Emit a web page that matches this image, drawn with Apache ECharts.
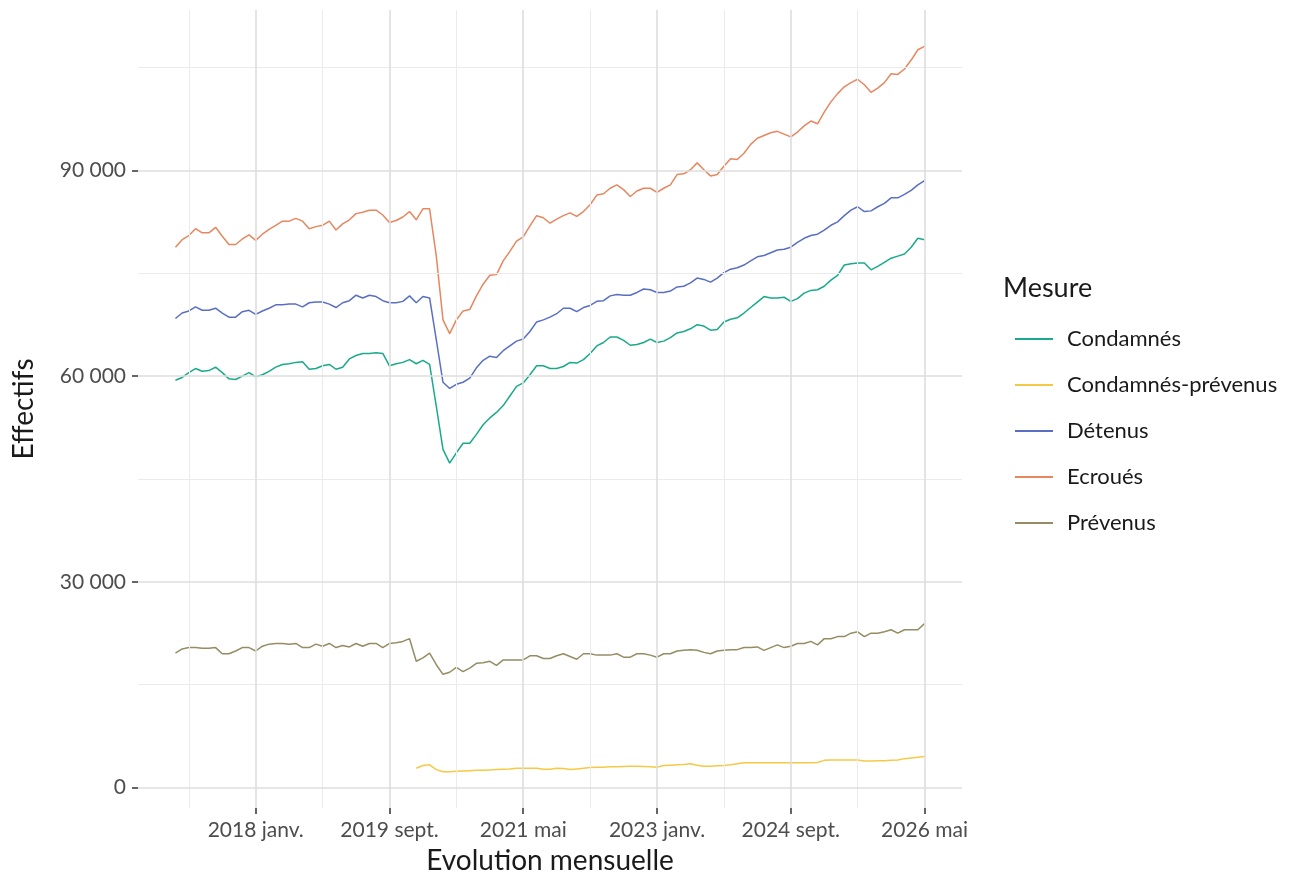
<!DOCTYPE html>
<html>
<head>
<meta charset="utf-8">
<script src="https://cdn.jsdelivr.net/npm/echarts@6.0.0/dist/echarts.min.js"></script>
<style>html, body { margin: 0; background: #fff; }</style>
</head>
<body>
<div id="main" style="width: 1310px; height: 877px;"></div>
<script>
// months are counted from 2017 janv. (index 0) to 2026 mai (index 112)
var tickMonths = [12, 32, 52, 72, 92, 112];
var tickLabels = ['2018 janv.', '2019 sept.', '2021 mai', '2023 janv.', '2024 sept.', '2026 mai'];
var minorMonths = [2, 22, 42, 62, 82, 102];
var yTicks = [0, 30000, 60000, 90000];
var yMinor = [15000, 45000, 75000, 105000];

var names = ['Condamnés', 'Condamnés-prévenus', 'Détenus', 'Ecroués', 'Prévenus'];
var colors = ['#1AAA8B', '#F6C945', '#5A6FC2', '#E6875F', '#968C64'];

// values in thousands, one per month
var condamnes = [59.4, 59.8, 60.5, 61.1, 60.7, 60.8, 61.3, 60.5, 59.6, 59.5, 60.0, 60.5, 59.9, 60.2, 60.7, 61.3,
  61.7, 61.8, 62.0, 62.1, 61.0, 61.1, 61.5, 61.7, 61.0, 61.3, 62.5, 63.0, 63.3, 63.3, 63.4, 63.3, 61.5, 61.8,
  62.0, 62.4, 61.8, 62.3, 61.7, 55.6, 49.3, 47.3, 48.8, 50.2, 50.2, 51.5, 52.9, 53.9, 54.7, 55.7, 57.1, 58.5,
  59.0, 60.2, 61.5, 61.5, 61.1, 61.1, 61.4, 62.0, 61.9, 62.4, 63.3, 64.4, 64.9, 65.7, 65.7, 65.2, 64.5, 64.6,
  64.9, 65.4, 64.9, 65.1, 65.6, 66.3, 66.5, 66.9, 67.5, 67.3, 66.7, 66.8, 67.9, 68.3, 68.5, 69.2, 70.0, 70.8,
  71.6, 71.4, 71.4, 71.5, 70.9, 71.3, 72.1, 72.5, 72.6, 73.1, 74.0, 74.7, 76.2, 76.4, 76.5, 76.5, 75.5, 76.0,
  76.6, 77.2, 77.5, 77.8, 78.8, 80.1, 79.9];

// starts in 2020 janv. (index 36)
var cpStart = 36;
var condamnesPrevenus = [2.8, 3.2, 3.3, 2.6, 2.3, 2.3, 2.35, 2.4, 2.45, 2.5, 2.5, 2.55, 2.6, 2.65, 2.7, 2.8,
  2.8, 2.8, 2.8, 2.65, 2.65, 2.8, 2.75, 2.6, 2.7, 2.8, 2.9, 2.95, 2.95, 3.0, 3.0, 3.05, 3.1, 3.1, 3.05, 3.0,
  2.95, 3.2, 3.25, 3.3, 3.35, 3.45, 3.25, 3.1, 3.1, 3.15, 3.2, 3.3, 3.45, 3.6, 3.6, 3.6, 3.6, 3.6, 3.6, 3.6,
  3.6, 3.6, 3.6, 3.6, 3.65, 3.95, 4.0, 4.0, 4.0, 4.0, 4.0, 3.85, 3.85, 3.9, 3.9, 3.95, 4.0, 4.2, 4.3, 4.4, 4.5];

var detenus = [68.4, 69.2, 69.5, 70.1, 69.6, 69.6, 69.9, 69.2, 68.6, 68.6, 69.4, 69.6, 69.0, 69.5, 69.9, 70.4,
  70.4, 70.5, 70.5, 70.1, 70.7, 70.8, 70.8, 70.5, 70.0, 70.7, 71.0, 71.8, 71.4, 71.8, 71.6, 71.0, 70.7, 70.7,
  70.9, 71.7, 70.7, 71.6, 71.4, 65.3, 59.1, 58.2, 58.8, 59.1, 59.7, 61.2, 62.3, 62.9, 62.7, 63.7, 64.4, 65.1,
  65.4, 66.5, 67.9, 68.2, 68.6, 69.1, 69.9, 69.9, 69.4, 70.0, 70.3, 70.9, 71.0, 71.7, 71.9, 71.8, 71.8, 72.2,
  72.7, 72.6, 72.2, 72.2, 72.4, 73.0, 73.1, 73.6, 74.3, 74.1, 73.7, 74.3, 75.1, 75.6, 75.8, 76.2, 76.8, 77.4,
  77.6, 78.0, 78.4, 78.5, 78.8, 79.5, 80.1, 80.5, 80.7, 81.3, 82.0, 82.5, 83.4, 84.2, 84.7, 84.0, 84.1, 84.7,
  85.2, 86.0, 86.0, 86.5, 87.1, 87.9, 88.5];

var ecroues = [78.8, 79.9, 80.5, 81.5, 80.9, 80.9, 81.7, 80.4, 79.2, 79.2, 80.0, 80.6, 79.8, 80.7, 81.4, 82.0,
  82.6, 82.6, 83.0, 82.6, 81.5, 81.8, 82.0, 82.6, 81.3, 82.2, 82.8, 83.7, 83.9, 84.2, 84.2, 83.5, 82.4, 82.7,
  83.2, 84.0, 82.8, 84.4, 84.4, 77.5, 68.2, 66.2, 68.2, 69.5, 69.7, 71.7, 73.4, 74.7, 74.8, 76.8, 78.2, 79.7,
  80.3, 81.9, 83.4, 83.1, 82.3, 82.9, 83.4, 83.8, 83.3, 84.0, 85.0, 86.4, 86.6, 87.4, 87.9, 87.2, 86.2, 87.0,
  87.4, 87.4, 86.8, 87.4, 87.9, 89.4, 89.5, 90.1, 91.1, 90.1, 89.2, 89.4, 90.6, 91.7, 91.6, 92.5, 93.8, 94.7,
  95.1, 95.5, 95.7, 95.3, 94.9, 95.6, 96.5, 97.2, 96.8, 98.5, 100.0, 101.2, 102.2, 102.8, 103.3, 102.5, 101.4,
  102.0, 102.8, 104.1, 104.0, 104.8, 106.1, 107.6, 108.1];

var prevenus = [19.6, 20.2, 20.4, 20.4, 20.3, 20.3, 20.4, 19.5, 19.5, 19.9, 20.4, 20.4, 19.9, 20.6, 20.9, 21.0,
  21.0, 20.9, 21.0, 20.4, 20.4, 20.9, 20.6, 21.0, 20.4, 20.7, 20.5, 21.0, 20.6, 21.0, 21.0, 20.4, 21.0, 21.1,
  21.3, 21.7, 18.4, 18.9, 19.6, 17.9, 16.5, 16.8, 17.5, 16.9, 17.4, 18.1, 18.2, 18.4, 17.8, 18.6, 18.6, 18.6,
  18.6, 19.2, 19.2, 18.8, 18.8, 19.2, 19.5, 19.1, 18.7, 19.5, 19.5, 19.3, 19.3, 19.3, 19.5, 19.0, 19.0, 19.5,
  19.5, 19.3, 19.0, 19.5, 19.5, 19.9, 20.0, 20.1, 20.0, 19.7, 19.5, 19.9, 20.0, 20.1, 20.1, 20.4, 20.4, 20.5,
  20.0, 20.4, 20.8, 20.4, 20.6, 21.0, 21.0, 21.3, 20.8, 21.7, 21.7, 22.0, 22.0, 22.5, 22.7, 22.0, 22.5, 22.5,
  22.7, 23.0, 22.5, 23.0, 23.0, 23.0, 23.9];

var seriesValues = [condamnes, condamnesPrevenus, detenus, ecroues, prevenus];
var seriesStart = [0, cpStart, 0, 0, 0];

function toPoints(arr, start) {
  return arr.map(function (v, k) { return [start + k, v * 1000]; });
}
function frNumber(v) {
  return String(v).replace(/\B(?=(\d{3})+(?!\d))/g, ' ');
}

var FONT = 'Lato';
var chart = echarts.init(document.getElementById('main'));

var gridSeries = {
  type: 'line', data: [], z: 0, silent: true,
  markLine: {
    silent: true, symbol: 'none', animation: false, label: { show: false },
    data: []
  }
};
function gridLine(axis, v, major) {
  var d = { lineStyle: { color: major ? '#DEDEDE' : '#EBEBEB', width: major ? 1.6 : 1, type: 'solid' } };
  d[axis] = v;
  return d;
}
minorMonths.forEach(function (v) { gridSeries.markLine.data.push(gridLine('xAxis', v, false)); });
yMinor.forEach(function (v) { gridSeries.markLine.data.push(gridLine('yAxis', v, false)); });
tickMonths.forEach(function (v) { gridSeries.markLine.data.push(gridLine('xAxis', v, true)); });
yTicks.forEach(function (v) { gridSeries.markLine.data.push(gridLine('yAxis', v, true)); });

var series = [gridSeries];
names.forEach(function (name, k) {
  series.push({
    name: name,
    type: 'line',
    z: 3,
    symbol: 'none',
    data: toPoints(seriesValues[k], seriesStart[k]),
    lineStyle: { width: 1.5, color: colors[k] },
    itemStyle: { color: colors[k] }
  });
});

var option = {
  animation: false,
  textStyle: { fontFamily: FONT },
  grid: { left: 138, right: 348, top: 10, bottom: 69, outerBoundsMode: 'none', containLabel: false },
  title: {
    text: 'Mesure', left: 998, top: 270,
    textStyle: { fontFamily: FONT, fontSize: 27, fontWeight: 'normal', color: '#1a1a1a' }
  },
  legend: {
    data: names,
    orient: 'vertical',
    left: 1010, top: 322,
    icon: 'rect', itemWidth: 38, itemHeight: 2, itemGap: 22,
    textStyle: { fontFamily: FONT, fontSize: 22, color: '#1a1a1a', lineHeight: 24, padding: [0, 0, 0, 9] }
  },
  xAxis: {
    type: 'value', min: -5.6, max: 117.6,
    name: 'Evolution mensuelle', nameLocation: 'middle', nameGap: 39,
    nameTextStyle: { fontFamily: FONT, fontSize: 28, color: '#1a1a1a' },
    axisLine: { show: false, onZero: false },
    axisTick: { show: true, customValues: tickMonths, length: 6, lineStyle: { color: '#333', width: 1.5 } },
    axisLabel: {
      customValues: tickMonths, margin: 12, fontFamily: FONT, fontSize: 21, color: '#4D4D4D',
      formatter: function (v) { return tickLabels[tickMonths.indexOf(v)] || ''; }
    },
    splitLine: { show: false }
  },
  yAxis: {
    type: 'value', min: -3000, max: 113400,
    name: 'Effectifs', nameLocation: 'middle', nameGap: 100,
    nameTextStyle: { fontFamily: FONT, fontSize: 28, color: '#1a1a1a' },
    axisLine: { show: false, onZero: false },
    axisTick: { show: true, customValues: yTicks, length: 6, lineStyle: { color: '#333', width: 1.5 } },
    axisLabel: {
      customValues: yTicks, margin: 12, fontFamily: FONT, fontSize: 21, color: '#4D4D4D',
      formatter: function (v) { return frNumber(v); }
    },
    splitLine: { show: false }
  },
  series: series
};
chart.setOption(option);
</script>
</body>
</html>
